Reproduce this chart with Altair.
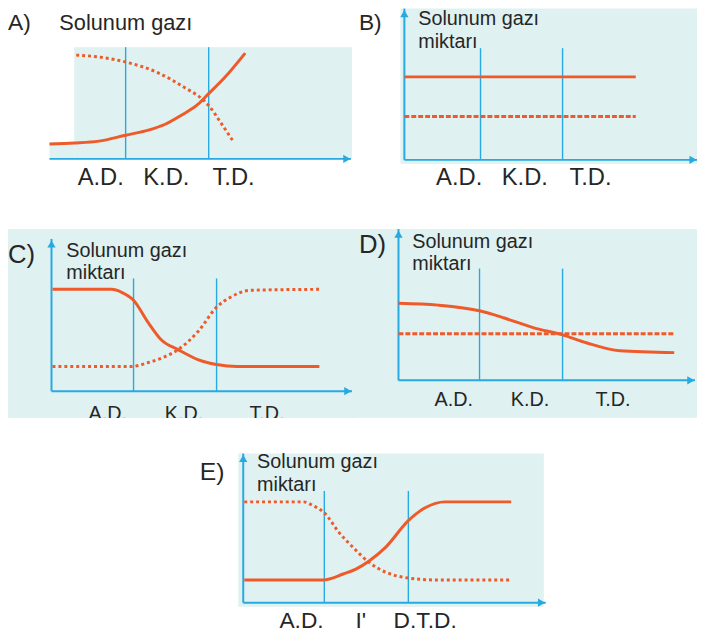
import altair as alt
import pandas as pd

ORANGE = "#ef5a2b"
BLUE = "#27a9e1"
BG = "#dff1f1"
TXT = "#262626"
FONT = "Liberation Sans"
SY = 113  # pixels per unit of "amount"

# ---------------- data (x in stage units: 1 and 2 are the stage borders; y = relative amount) -------------
A_solid_t = [0.083, 0.381, 0.679, 1.0, 1.274, 1.476, 1.667, 1.869, 2.0, 2.19, 2.44]
A_solid_v = [0.133, 0.142, 0.159, 0.212, 0.257, 0.31, 0.389, 0.487, 0.584, 0.726, 0.947]
A_dot_t = [0.405, 0.679, 1.0, 1.393, 1.714, 1.929, 2.0, 2.143, 2.286]
A_dot_v = [0.929, 0.912, 0.867, 0.77, 0.637, 0.531, 0.478, 0.327, 0.168]

B_solid_t = [0.072, 2.892]
B_solid_v = [0.743, 0.743]
B_dot_t = [0.072, 2.892]
B_dot_v = [0.389, 0.389]

C_solid_t = [0.024, 0.738, 0.857, 1.0, 1.179, 1.333, 1.536, 1.774, 2.0, 2.25, 3.238]
C_solid_v = [0.912, 0.912, 0.885, 0.814, 0.611, 0.46, 0.372, 0.283, 0.239, 0.221, 0.221]
C_dot_t = [0.024, 0.976, 1.179, 1.381, 1.536, 1.774, 2.0, 2.167, 2.405, 3.238]
C_dot_v = [0.221, 0.221, 0.257, 0.31, 0.372, 0.531, 0.752, 0.841, 0.903, 0.912]

D_solid_t = [0.024, 0.5, 1.012, 1.298, 1.655, 2.0, 2.286, 2.69, 3.345]
D_solid_v = [0.69, 0.673, 0.62, 0.558, 0.469, 0.407, 0.336, 0.265, 0.248]
D_dot_t = [0.024, 3.345]
D_dot_v = [0.416, 0.416]

E_solid_t = [0.047, 0.988, 1.224, 1.376, 1.529, 1.729, 2.0, 2.2, 2.435, 3.224]
E_solid_v = [0.204, 0.204, 0.257, 0.301, 0.372, 0.496, 0.735, 0.85, 0.903, 0.903]
E_dot_t = [0.047, 0.753, 0.871, 1.0, 1.176, 1.341, 1.529, 1.729, 2.0, 2.318, 3.2]
E_dot_v = [0.903, 0.903, 0.867, 0.805, 0.628, 0.496, 0.363, 0.274, 0.221, 0.204, 0.204]

panel_letters = ["A)", "B)", "C)", "D)", "E)"]
title_short = "Solunum gazı"
title_full = "Solunum gazı\nmiktarı"
stage_labels_ABCD = ["A.D.", "K.D.", "T.D."]
stage_labels_E = ["A.D.", "I'", "D.T.D."]
stage_borders = [1, 2]


def panel(geo, bgs, vtop, xaxis, yaxis, solid, dotted, dash, letter, title, stages, extra_cover=None):
    x0, sx, yb = geo
    xs = alt.Scale(domain=[0, 3], range=[x0 - 8, x0 - 8 + 3 * sx], zero=False, nice=False)
    ys = alt.Scale(domain=[0, 1], range=[yb - 8, yb - 8 - SY], zero=False, nice=False)

    def X(f):
        return alt.X(f, type="quantitative", scale=xs, axis=None)

    def Y(f):
        return alt.Y(f, type="quantitative", scale=ys, axis=None)

    layers = []
    bg_df = pd.DataFrame(bgs, columns=["x1", "x2", "y1", "y2"])
    layers.append(alt.Chart(bg_df).mark_rect(color=BG).encode(
        x=X("x1"), x2="x2", y=Y("y1"), y2="y2"))

    vl = pd.DataFrame({"t": stage_borders, "v1": [0, 0], "v2": [vtop, vtop]})
    layers.append(alt.Chart(vl).mark_rule(color=BLUE, strokeWidth=1.4).encode(
        x=X("t"), y=Y("v1"), y2="v2"))

    ax = pd.DataFrame({"t1": [xaxis[0]], "t2": [xaxis[1]], "v": [0]})
    layers.append(alt.Chart(ax).mark_rule(color=BLUE, strokeWidth=2).encode(
        x=X("t1"), x2="t2", y=Y("v")))
    ah = pd.DataFrame({"t": [xaxis[1] - 0.05], "v": [0]})
    layers.append(alt.Chart(ah).mark_point(shape="triangle-right", filled=True, size=70,
                                           color=BLUE, opacity=1).encode(x=X("t"), y=Y("v")))
    if yaxis is not None:
        ay = pd.DataFrame({"t": [yaxis[0]], "v1": [0], "v2": [yaxis[1]]})
        layers.append(alt.Chart(ay).mark_rule(color=BLUE, strokeWidth=2).encode(
            x=X("t"), y=Y("v1"), y2="v2"))
        ayh = pd.DataFrame({"t": [yaxis[0]], "v": [yaxis[1] - 0.045]})
        layers.append(alt.Chart(ayh).mark_point(shape="triangle-up", filled=True, size=70,
                                                color=BLUE, opacity=1).encode(x=X("t"), y=Y("v")))

    sdf = pd.DataFrame({"t": solid[0], "v": solid[1]})
    ddf = pd.DataFrame({"t": dotted[0], "v": dotted[1]})
    layers.append(alt.Chart(ddf).mark_line(color=ORANGE, strokeWidth=3, interpolate="monotone",
                                           strokeDash=dash).encode(x=X("t"), y=Y("v")))
    layers.append(alt.Chart(sdf).mark_line(color=ORANGE, strokeWidth=3, interpolate="monotone").encode(
        x=X("t"), y=Y("v")))

    # panel letter
    ldf = pd.DataFrame([letter], columns=["t", "v", "label", "fs"])
    layers.append(alt.Chart(ldf).mark_text(align="left", baseline="alphabetic", font=FONT, color=TXT).encode(
        x=X("t"), y=Y("v"), text="label:N", size=alt.Size("fs:Q", scale=None, legend=None)))
    tdf = pd.DataFrame([title], columns=["t", "v", "label", "fs"])
    layers.append(alt.Chart(tdf).mark_text(align="left", baseline="alphabetic", font=FONT, color=TXT,
                                           lineBreak="\n", lineHeight=23).encode(
        x=X("t"), y=Y("v"), text="label:N", size=alt.Size("fs:Q", scale=None, legend=None)))
    sdf2 = pd.DataFrame(stages, columns=["t", "v", "label", "fs"])
    layers.append(alt.Chart(sdf2).mark_text(align="center", baseline="alphabetic", font=FONT, color=TXT).encode(
        x=X("t"), y=Y("v"), text="label:N", size=alt.Size("fs:Q", scale=None, legend=None)))
    if extra_cover is not None:
        cdf = pd.DataFrame([extra_cover], columns=["x1", "x2", "y1", "y2"])
        layers.append(alt.Chart(cdf).mark_rect(color="white").encode(
            x=X("x1"), x2="x2", y=Y("y1"), y2="y2"))
    return alt.layer(*layers)


pA = panel(
    (43, 84, 157),
    [[0.381, 3.726, 0, 1], [0.083, 0.381, 0, 0.15]],
    1.0, (0.083, 3.714), None,
    (A_solid_t, A_solid_v), (A_dot_t, A_dot_v), [3, 3],
    [-0.417, 1.15, panel_letters[0], 23],
    [0.202, 1.15, title_short, 22],
    [[0.70, -0.23, stage_labels_ABCD[0], 24], [1.49, -0.23, stage_labels_ABCD[1], 24],
     [2.30, -0.23, stage_labels_ABCD[2], 24]],
)
pB = panel(
    (403, 83, 158),
    [[0.024, 3.64, -0.035, 1.354]],
    1.0, (0.072, 3.64), (0.072, 1.354),
    (B_solid_t, B_solid_v), (B_dot_t, B_dot_v), [5, 2],
    [-0.482, 1.159, panel_letters[1], 23],
    [0.241, 1.205, title_full, 20],
    [[0.74, -0.221, stage_labels_ABCD[0], 24], [1.54, -0.221, stage_labels_ABCD[1], 24],
     [2.34, -0.221, stage_labels_ABCD[2], 24]],
)
pC = panel(
    (51, 84, 392),
    [[-0.512, 3.679, -0.239, 1.451]],
    1.009, (0.012, 3.631), (0.012, 1.363),
    (C_solid_t, C_solid_v), (C_dot_t, C_dot_v), [3, 3],
    [-0.512, 1.15, panel_letters[2], 26],
    [0.19, 1.205, title_full, 20],
    [[0.69, -0.255, stage_labels_ABCD[0], 20], [1.607, -0.255, stage_labels_ABCD[1], 20],
     [2.607, -0.255, stage_labels_ABCD[2], 20]],
    extra_cover=[-0.512, 3.679, -0.239, -0.33],
)
pD = panel(
    (401, 84, 381),
    [[-0.488, 3.62, -0.336, 1.354]],
    1.0, (0.024, 3.595), (0.024, 1.354),
    (D_solid_t, D_solid_v), (D_dot_t, D_dot_v), [5, 2],
    [-0.452, 1.142, panel_letters[3], 26],
    [0.19, 1.187, title_full, 20],
    [[0.69, -0.23, stage_labels_ABCD[0], 20], [1.607, -0.23, stage_labels_ABCD[1], 20],
     [2.607, -0.23, stage_labels_ABCD[2], 20]],
)
pE = panel(
    (243, 85, 606),
    [[-0.024, 3.612, -0.035, 1.336]],
    1.0, (0.035, 3.635), (0.035, 1.336),
    (E_solid_t, E_solid_v), (E_dot_t, E_dot_v), [3, 3],
    [-0.482, 1.097, panel_letters[4], 25],
    [0.2, 1.205, title_full, 20],
    [[0.729, -0.23, stage_labels_E[0], 23], [1.435, -0.23, stage_labels_E[1], 23],
     [2.2, -0.23, stage_labels_E[2], 23]],
)

chart = alt.layer(pA, pB, pC, pD, pE).resolve_scale(
    x="independent", y="independent"
).properties(
    width=697, height=626, padding=0,
    autosize=alt.AutoSizeParams(type="none"),
).configure_view(stroke=None)

chart.save("out.html", embed_options={"renderer": "svg", "actions": False})
